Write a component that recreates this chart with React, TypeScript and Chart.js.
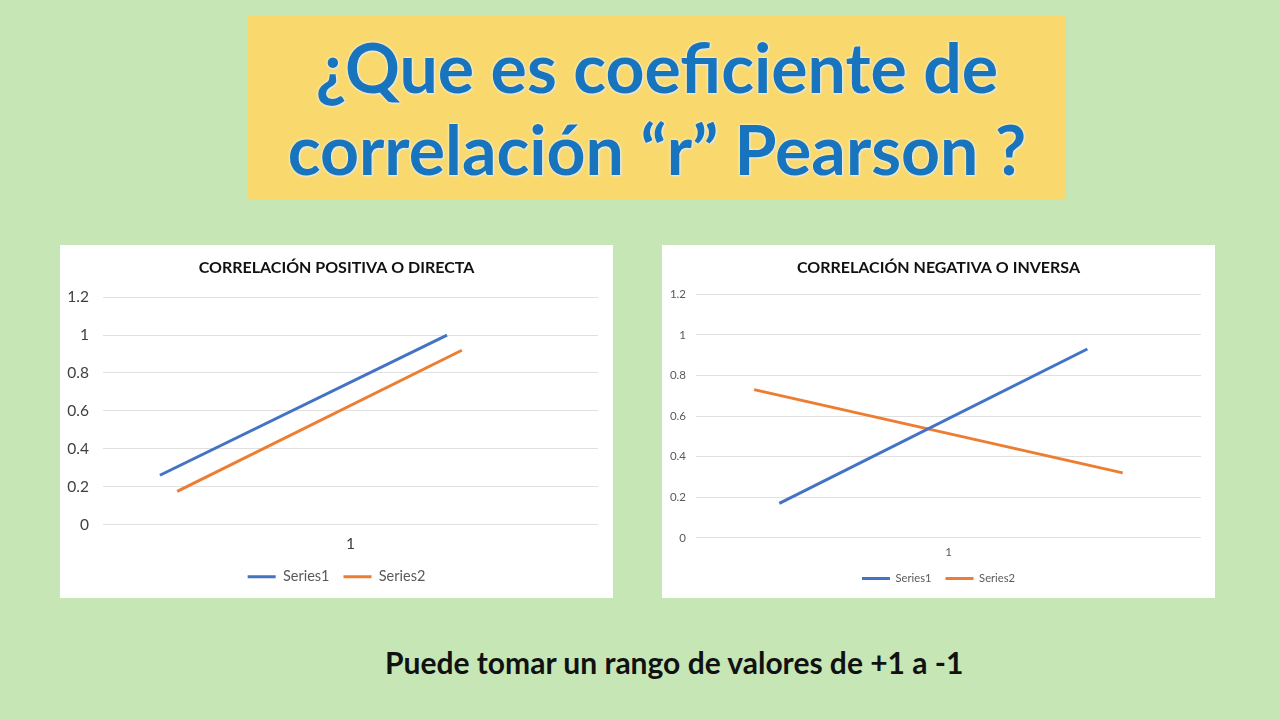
import React, { useEffect, useRef } from "react";
import { Chart, registerables } from "chart.js";

Chart.register(...registerables);

// ---- data ----
const xTickLabels = ["1"];
const yTickMax = 1.2;
const seriesNames = ["Series1", "Series2"];

// Positive correlation chart (x positions on a hidden 0..2 axis, y values)
const posSeries1X = [0.23, 1.39];
const posSeries1Y = [0.26, 1.0];
const posSeries2X = [0.3, 1.45];
const posSeries2Y = [0.175, 0.92];

// Negative correlation chart
const negSeries1X = [0.33, 1.55];
const negSeries1Y = [0.17, 0.93];
const negSeries2X = [0.23, 1.69];
const negSeries2Y = [0.73, 0.32];

const titles = ["CORRELACIÓN POSITIVA O DIRECTA", "CORRELACIÓN NEGATIVA O INVERSA"];

const COLORS = ["#4472c4", "#ed7d31"];
const FONT = "Lato, 'Open Sans', sans-serif";

type PanelCfg = {
  title: string;
  s1x: number[];
  s1y: number[];
  s2x: number[];
  s2y: number[];
  tickSize: number;
  tickColor: string;
  legendSize: number;
  yAxisWidth: number;
  yTickPad: number;
  rightSpace: number;
  bottomPad: number;
  titleTop: number;
  titleBottom: number;
  xAxisHeight: number;
  tickPadding: number;
};

function toPoints(xs: number[], ys: number[]) {
  return xs.map((x, i) => ({ x, y: ys[i] }));
}

function Panel({ cfg, left, top }: { cfg: PanelCfg; left: number; top: number }) {
  const ref = useRef<HTMLCanvasElement | null>(null);
  useEffect(() => {
    if (!ref.current) return;
    const chart = new Chart(ref.current, {
      type: "line",
      data: {
        datasets: [
          {
            label: seriesNames[0],
            data: toPoints(cfg.s1x, cfg.s1y),
            borderColor: COLORS[0],
            backgroundColor: COLORS[0],
            borderWidth: 3,
            pointRadius: 0,
          },
          {
            label: seriesNames[1],
            data: toPoints(cfg.s2x, cfg.s2y),
            borderColor: COLORS[1],
            backgroundColor: COLORS[1],
            borderWidth: 3,
            pointRadius: 0,
          },
        ],
      },
      options: {
        animation: false,
        responsive: false,
        maintainAspectRatio: false,
        layout: { padding: { left: 0, right: 0, top: 0, bottom: cfg.bottomPad } },
        plugins: {
          tooltip: { enabled: false },
          title: {
            display: true,
            text: cfg.title,
            color: "#111",
            font: { family: FONT, size: 16, weight: "bold" },
            padding: { top: cfg.titleTop, bottom: cfg.titleBottom },
          },
          legend: {
            position: "bottom",
            labels: {
              color: "#595959",
              font: { family: FONT, size: cfg.legendSize },
              usePointStyle: true,
              pointStyle: "line",
              pointStyleWidth: 28,
              boxHeight: cfg.legendSize,
              padding: 14,
            },
          },
        },
        scales: {
          x: {
            type: "linear",
            min: 0,
            max: 2,
            grid: { display: false },
            border: { display: false },
            afterBuildTicks: (axis: any) => {
              axis.ticks = xTickLabels.map((_, i) => ({ value: i + 1 }));
            },
            afterFit: (axis: any) => {
              axis.height = cfg.xAxisHeight;
            },
            ticks: {
              color: cfg.tickColor,
              padding: cfg.tickPadding,
              font: { family: FONT, size: cfg.tickSize },
              callback: (v: any) => xTickLabels[Number(v) - 1] ?? "",
            },
          },
          y: {
            min: 0,
            max: yTickMax,
            grid: { color: "#e0e0e0", lineWidth: 1, drawTicks: false },
            border: { display: false },
            afterFit: (axis: any) => {
              axis.width = cfg.yAxisWidth;
            },
            ticks: {
              stepSize: 0.2,
              color: cfg.tickColor,
              padding: cfg.yTickPad,
              font: { family: FONT, size: cfg.tickSize },
              callback: (v: any) => String(Math.round(Number(v) * 10) / 10),
            },
          },
          yRightSpace: {
            position: "right",
            min: 0,
            max: yTickMax,
            grid: { display: false, drawTicks: false },
            border: { display: false },
            ticks: { display: false },
            afterFit: (axis: any) => {
              axis.width = cfg.rightSpace;
            },
          },
        },
      },
    } as any);
    return () => chart.destroy();
  }, [cfg]);
  return (
    <div
      style={{
        position: "absolute",
        left,
        top,
        width: 553,
        height: 353,
        background: "#ffffff",
      }}
    >
      <canvas ref={ref} width={553} height={353} style={{ display: "block" }} />
    </div>
  );
}

const posCfg: PanelCfg = {
  title: titles[0],
  s1x: posSeries1X,
  s1y: posSeries1Y,
  s2x: posSeries2X,
  s2y: posSeries2Y,
  tickSize: 15.5,
  tickColor: "#404040",
  legendSize: 14.5,
  yAxisWidth: 43,
  yTickPad: 14,
  rightSpace: 15,
  bottomPad: 4,
  titleTop: 13,
  titleBottom: 20,
  xAxisHeight: 31,
  tickPadding: 2,
};

const negCfg: PanelCfg = {
  title: titles[1],
  s1x: negSeries1X,
  s1y: negSeries1Y,
  s2x: negSeries2X,
  s2y: negSeries2Y,
  tickSize: 11.5,
  tickColor: "#595959",
  legendSize: 11.2,
  yAxisWidth: 34,
  yTickPad: 10,
  rightSpace: 14,
  bottomPad: 4,
  titleTop: 13,
  titleBottom: 17,
  xAxisHeight: 21,
  tickPadding: 0,
};

export default function App() {
  return (
    <div
      style={{
        position: "fixed",
        left: 0,
        top: 0,
        width: 1280,
        height: 720,
        background: "#c6e6b6",
        overflow: "hidden",
        fontFamily: FONT,
      }}
    >
      <div
        style={{
          position: "absolute",
          left: 248,
          top: 15,
          width: 818,
          height: 185,
          background: "#f9d96e",
          display: "flex",
          flexDirection: "column",
          alignItems: "center",
          justifyContent: "center",
          color: "#1874bd",
          fontWeight: 700,
          fontSize: 68,
          lineHeight: "82px",
          textShadow: "0 0 3px #ffffff, 1px 1px 2px #cfe3f5",
        }}
      >
        <div>¿Que es coeficiente de</div>
        <div>correlación “r” Pearson ?</div>
      </div>
      <Panel cfg={posCfg} left={60} top={245} />
      <Panel cfg={negCfg} left={662} top={245} />
      <div
        style={{
          position: "absolute",
          left: 385,
          top: 644,
          whiteSpace: "nowrap",
          fontSize: 30,
          fontWeight: 700,
          color: "#111",
          lineHeight: "36px",
        }}
      >
        Puede tomar un rango de valores de +1 a -1
      </div>
    </div>
  );
}
